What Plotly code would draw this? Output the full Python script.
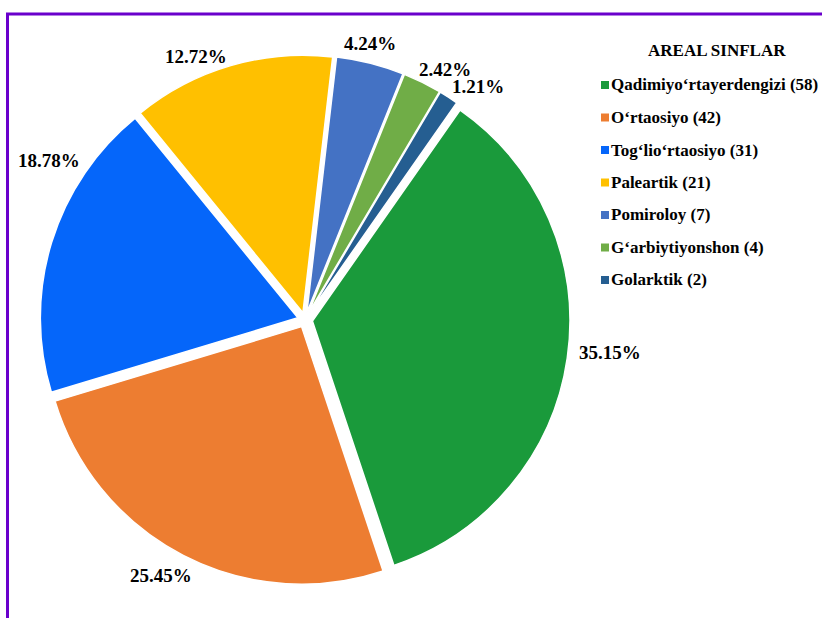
import math
import plotly.graph_objects as go

# ---- data ----
labels = ["Qadimiyo‘rtayerdengizi", "O‘rtaosiyo", "Tog‘lio‘rtaosiyo", "Paleartik",
          "Pomiroloy", "G‘arbiytiyonshon", "Golarktik"]
counts = [58, 42, 31, 21, 7, 4, 2]
colors = ["#1A9A3B", "#ED7D31", "#0566FA", "#FFC000", "#4472C4", "#70AD47", "#255E91"]
legend_title = "AREAL SINFLAR"

# ---- layout helpers ----
W, H = 822, 618
FONT = "Liberation Serif"


def fx(x):
    return x / W


def fy(y):
    return 1 - y / H


total = sum(counts)
# percentages truncated to two decimals (as shown on the chart)
pcts = [math.floor(c / total * 10000) / 100 for c in counts]

fig = go.Figure()
fig.add_trace(go.Pie(
    labels=labels,
    values=counts,
    sort=False,
    direction="clockwise",
    rotation=35,
    pull=0.029,
    marker=dict(colors=colors, line=dict(color="white", width=1.5)),
    textinfo="none",
    hoverinfo="label+value+percent",
    showlegend=False,
    domain=dict(x=[fx(40), fx(570)], y=[fy(585), fy(55)]),
))

# percentage labels (text placed around the pie)
label_px = [(610, 352), (161, 575), (49, 161), (196, 57), (370, 43), (445, 70), (478, 87)]
annotations = []
for p, (x, y) in zip(pcts, label_px):
    annotations.append(dict(
        x=fx(x), y=fy(y), xref="paper", yref="paper",
        text=f"<b>{p:.2f}%</b>", showarrow=False, xanchor="center", yanchor="middle",
        font=dict(family=FONT, size=19, color="black"),
    ))

# legend (title + colored squares + texts)
annotations.append(dict(
    x=fx(717), y=fy(50), xref="paper", yref="paper", text=f"<b>{legend_title}</b>",
    showarrow=False, xanchor="center", yanchor="middle",
    font=dict(family=FONT, size=17, color="black"),
))
shapes = []
y0, step = 85, 32.5
for i, (lab, c, col) in enumerate(zip(labels, counts, colors)):
    yc = y0 + i * step
    shapes.append(dict(type="rect", xref="paper", yref="paper",
                       x0=fx(601), x1=fx(609), y0=fy(yc + 4), y1=fy(yc - 4),
                       fillcolor=col, line=dict(width=0)))
    annotations.append(dict(
        x=fx(609), y=fy(yc), xref="paper", yref="paper",
        text=f"<b>{lab} ({c})</b>", showarrow=False, xanchor="left", yanchor="middle",
        font=dict(family=FONT, size=17, color="black"),
    ))

# purple frame
shapes.append(dict(type="rect", xref="paper", yref="paper",
                   x0=fx(7.5), x1=fx(840), y0=fy(640), y1=fy(14),
                   line=dict(color="#6A00CC", width=3), fillcolor="rgba(0,0,0,0)",
                   layer="above"))

fig.update_layout(
    width=W, height=H,
    margin=dict(l=0, r=0, t=0, b=0),
    paper_bgcolor="white",
    plot_bgcolor="white",
    font=dict(family=FONT),
    annotations=annotations,
    shapes=shapes,
)

# remove the default 8px page margin so the figure fills the window exactly
fig.write_html("out.html",
               config={"displayModeBar": False},
               post_script="document.body.style.margin='0px';document.body.style.overflow='hidden';")
